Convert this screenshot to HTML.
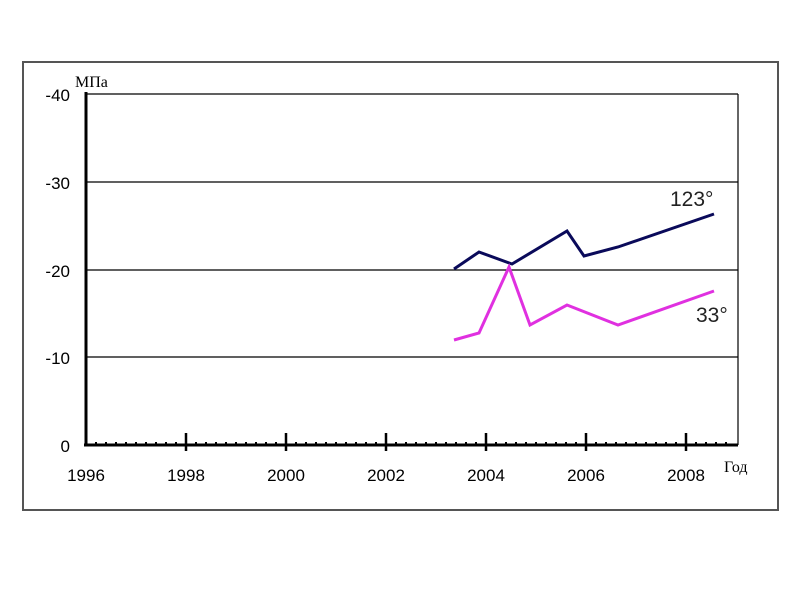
<!DOCTYPE html>
<html><head><style>body{margin:0;background:#fff}</style></head><body>
<svg width="800" height="600" xmlns="http://www.w3.org/2000/svg" font-family="Liberation Sans, sans-serif">
<rect x="23" y="62" width="755" height="448" fill="#fff" stroke="#555" stroke-width="2"/>
<g stroke="#000" stroke-width="1.2">
<line x1="86" y1="94" x2="738" y2="94"/>
<line x1="86" y1="182" x2="738" y2="182"/>
<line x1="86" y1="270" x2="738" y2="270"/>
<line x1="86" y1="357" x2="738" y2="357"/>
<line x1="738" y1="94" x2="738" y2="445"/>
</g>
<g stroke="#000" stroke-width="3">
<line x1="86" y1="92" x2="86" y2="446"/>
<line x1="84" y1="445" x2="738" y2="445"/>
</g>
<g stroke="#000" stroke-width="2.5">
<line x1="186" y1="433" x2="186" y2="451"/>
<line x1="286" y1="433" x2="286" y2="451"/>
<line x1="386" y1="433" x2="386" y2="451"/>
<line x1="486" y1="433" x2="486" y2="451"/>
<line x1="586" y1="433" x2="586" y2="451"/>
<line x1="686" y1="433" x2="686" y2="451"/>
</g>
<path d="M96 445v-3M106 445v-3M116 445v-3M126 445v-3M136 445v-3M146 445v-3M156 445v-3M166 445v-3M176 445v-3M196 445v-3M206 445v-3M216 445v-3M226 445v-3M236 445v-3M246 445v-3M256 445v-3M266 445v-3M276 445v-3M296 445v-3M306 445v-3M316 445v-3M326 445v-3M336 445v-3M346 445v-3M356 445v-3M366 445v-3M376 445v-3M396 445v-3M406 445v-3M416 445v-3M426 445v-3M436 445v-3M446 445v-3M456 445v-3M466 445v-3M476 445v-3M496 445v-3M506 445v-3M516 445v-3M526 445v-3M536 445v-3M546 445v-3M556 445v-3M566 445v-3M576 445v-3M596 445v-3M606 445v-3M616 445v-3M626 445v-3M636 445v-3M646 445v-3M656 445v-3M666 445v-3M676 445v-3M696 445v-3M706 445v-3M716 445v-3M726 445v-3" stroke="#000" stroke-width="2"/>
<polyline points="454,269 479,252 512,264 567,231 584,256 618,247 714,214" fill="none" stroke="#0a0a5a" stroke-width="3"/>
<polyline points="454,340 479,333 509,267 530,325 567,305 618,325 714,291" fill="none" stroke="#e030e0" stroke-width="3"/>
<g font-size="17" fill="#000" text-anchor="end">
<text x="70" y="101">-40</text>
<text x="70" y="189">-30</text>
<text x="70" y="277">-20</text>
<text x="70" y="364">-10</text>
<text x="70" y="452">0</text>
</g>
<g font-size="17" fill="#000" text-anchor="middle">
<text x="86" y="481">1996</text>
<text x="186" y="481">1998</text>
<text x="286" y="481">2000</text>
<text x="386" y="481">2002</text>
<text x="486" y="481">2004</text>
<text x="586" y="481">2006</text>
<text x="686" y="481">2008</text>
</g>
<text x="75" y="87" font-family="Liberation Serif, serif" font-size="16">МПа</text>
<text x="724" y="472" font-family="Liberation Serif, serif" font-size="16">Год</text>
<text x="670" y="206" font-size="21" fill="#222">123°</text>
<text x="696" y="322" font-size="21" fill="#222">33°</text>
</svg>
</body></html>
